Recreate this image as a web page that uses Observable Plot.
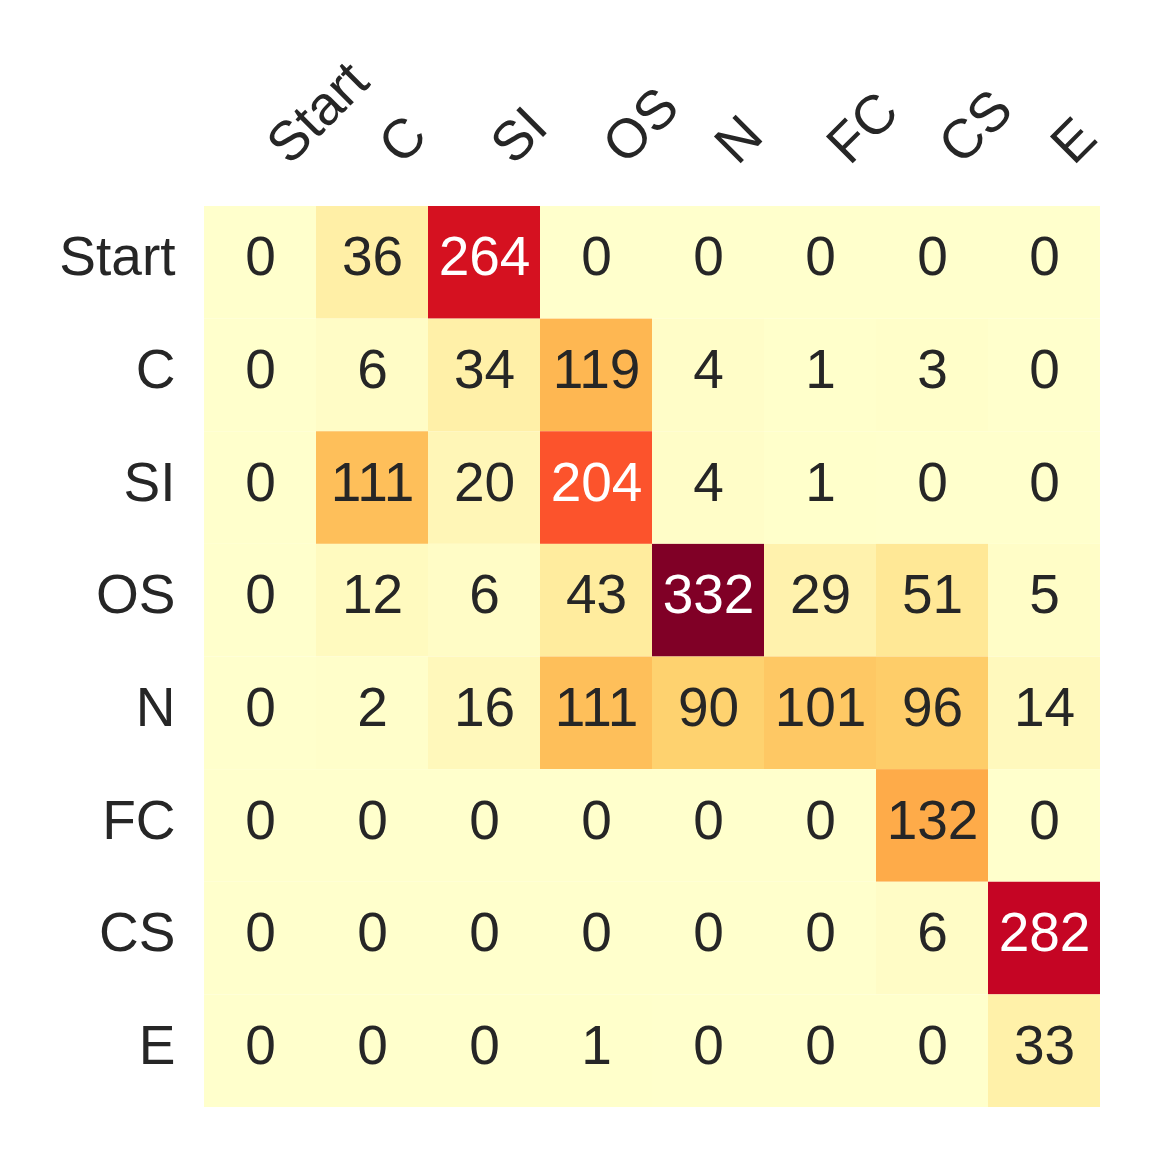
<!DOCTYPE html>
<html>
<head>
<meta charset="utf-8">
<script src="https://cdn.jsdelivr.net/npm/d3@7"></script>
<script src="https://cdn.jsdelivr.net/npm/@observablehq/plot@0.6"></script>
<style>
  html, body { margin: 0; padding: 0; background: #fff; }
  #chart svg { display: block; }
</style>
</head>
<body>
<div id="chart"></div>
<script>
const states = ["Start", "C", "SI", "OS", "N", "FC", "CS", "E"];
const rowStart = [0, 36, 264, 0, 0, 0, 0, 0];
const rowC     = [0, 6, 34, 119, 4, 1, 3, 0];
const rowSI    = [0, 111, 20, 204, 4, 1, 0, 0];
const rowOS    = [0, 12, 6, 43, 332, 29, 51, 5];
const rowN     = [0, 2, 16, 111, 90, 101, 96, 14];
const rowFC    = [0, 0, 0, 0, 0, 0, 132, 0];
const rowCS    = [0, 0, 0, 0, 0, 0, 6, 282];
const rowE     = [0, 0, 0, 1, 0, 0, 0, 33];
const rows = [rowStart, rowC, rowSI, rowOS, rowN, rowFC, rowCS, rowE];
const palette = ["#ffffcc", "#ffeda0", "#fed976", "#feb24c", "#fd8d3c", "#fc4e2a", "#e31a1c", "#bd0026", "#800026"];

const cells = [];
rows.forEach((r, i) => r.forEach((v, j) => cells.push({from: states[i], to: states[j], value: v})));

const vmax = d3.max(cells, d => d.value);
const colorDomain = palette.map((_, k) => k * vmax / (palette.length - 1));
const colorFn = d3.scaleLinear().domain(colorDomain).range(palette).interpolate(d3.interpolateRgb);

function lum(c) {
  const rgb = d3.rgb(c);
  const f = x => { x /= 255; return x <= 0.03928 ? x / 12.92 : Math.pow((x + 0.055) / 1.055, 2.4); };
  return 0.2126 * f(rgb.r) + 0.7152 * f(rgb.g) + 0.0722 * f(rgb.b);
}
cells.forEach(d => { d.textColor = lum(colorFn(d.value)) < 0.408 ? "#ffffff" : "#262626"; });

const font = "'Liberation Sans', Arial, Helvetica, sans-serif";
const fs = 55;

const chart = Plot.plot({
  width: 1165,
  height: 1165,
  marginLeft: 204,
  marginRight: 65,
  marginTop: 206,
  marginBottom: 58,
  style: {fontFamily: font, background: "#fff"},
  x: {domain: states, padding: 0, round: false, axis: null},
  y: {domain: states, padding: 0, round: false, axis: null},
  color: {type: "linear", domain: colorDomain, range: palette, interpolate: "rgb"},
  marks: [
    Plot.cell(cells, {x: "to", y: "from", fill: "value", inset: 0}),
    Plot.text(cells, {x: "to", y: "from", text: d => String(d.value), fill: "textColor", fontSize: fs, dy: -5}),
    Plot.text(states, {y: d => d, frameAnchor: "left", dx: -29, textAnchor: "end", text: d => d, fontSize: fs, fill: "#262626", dy: -5}),
    Plot.text(states, {x: d => d, frameAnchor: "top", dy: -40, dx: 29, rotate: -45, textAnchor: "start", lineAnchor: "bottom", text: d => d, fontSize: fs, fill: "#262626"})
  ]
});
document.getElementById("chart").appendChild(chart);
</script>
</body>
</html>
